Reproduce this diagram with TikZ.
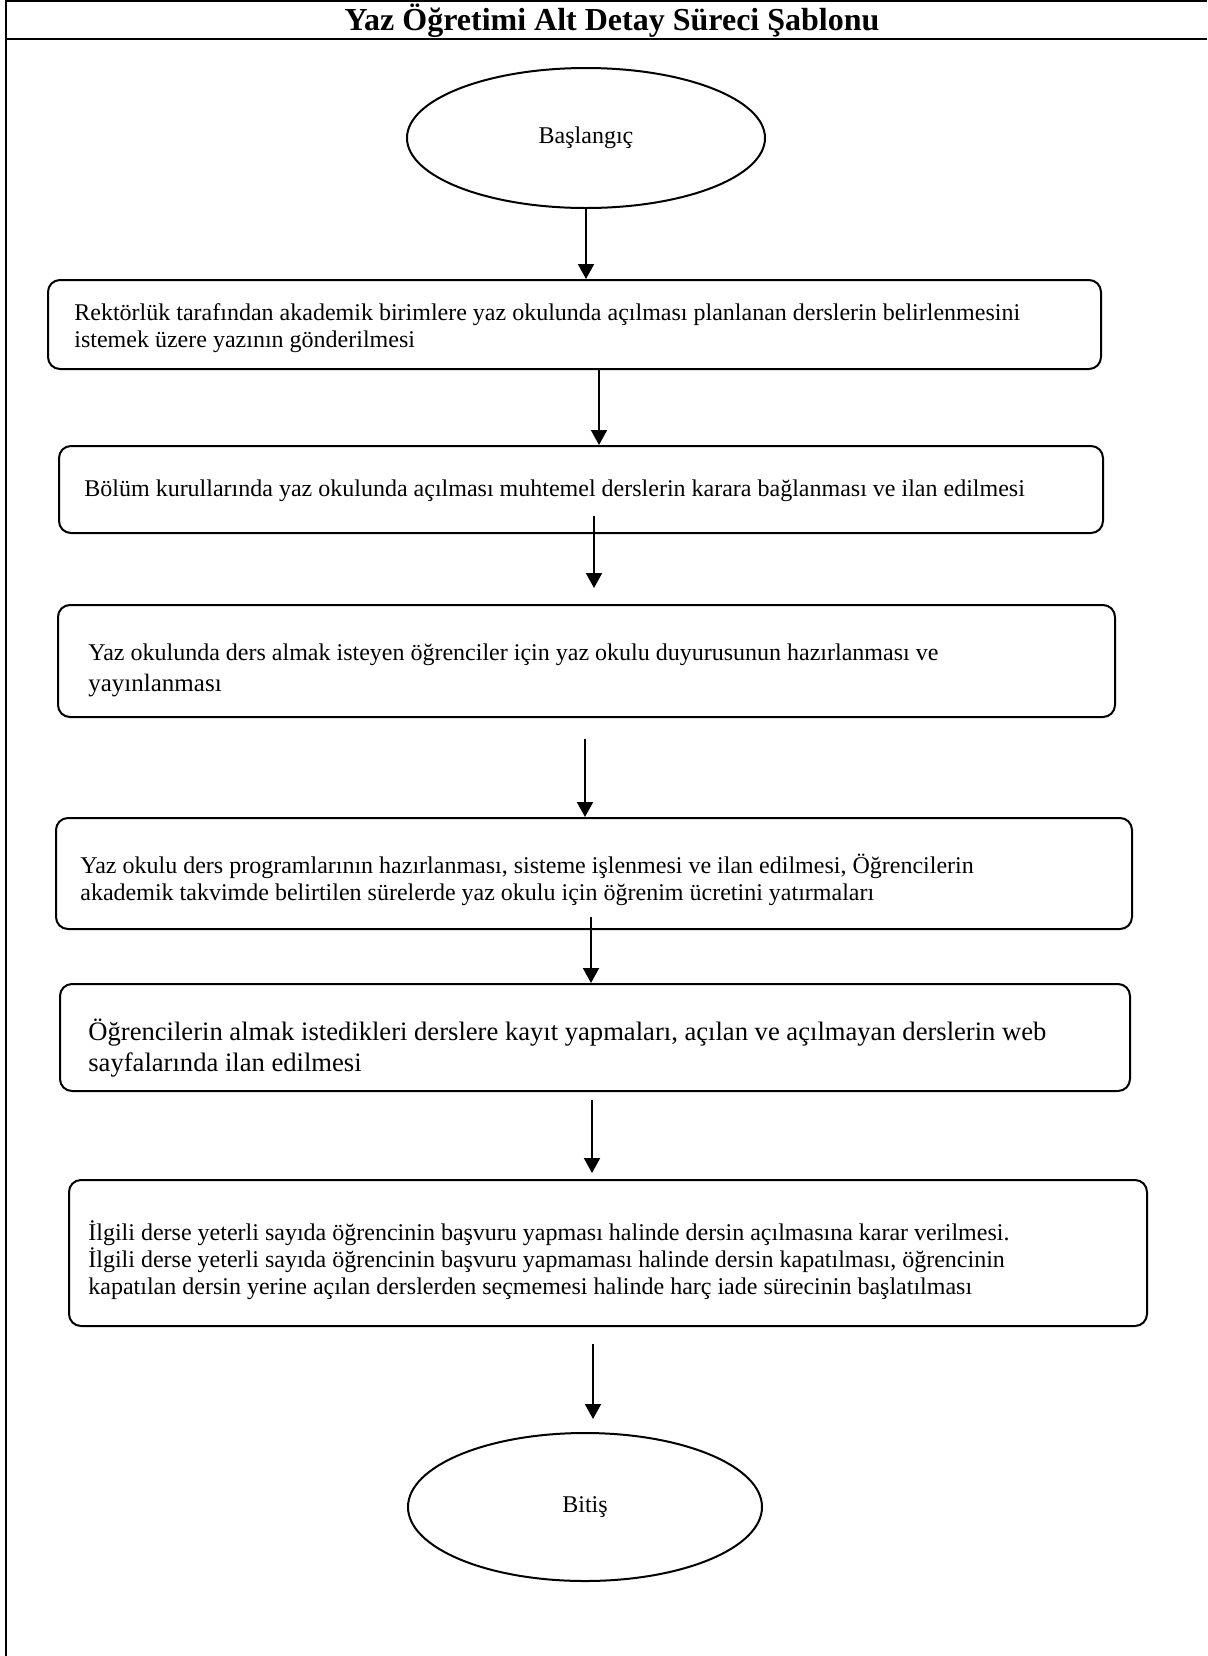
\documentclass[tikz,border=0pt]{standalone}
\usepackage{fontspec}
\setmainfont{Liberation Serif}
\usetikzlibrary{shapes.geometric,arrows.meta}
\begin{document}
\begin{tikzpicture}[x=0.5pt,y=-0.5pt,
  frame/.style={line width=1pt},
  term/.style={draw,ellipse,line width=1pt,inner sep=0pt,font=\fontsize{12}{14}\selectfont},
  stepbox/.style={draw,rectangle,rounded corners=6pt,line width=1pt,inner sep=0pt},
  steptext/.style={anchor=west,align=left,inner sep=0pt,font=\fontsize{12}{13.4}\selectfont},
  arr/.style={line width=1pt,-{Triangle[length=7.5pt,width=8pt]}}]
\useasboundingbox (0,0) rectangle (1207,1656);

% page frame and title row
\coordinate (tl) at (6,1);
\coordinate (tr) at (1207,1);
\coordinate (hl) at (6,39);
\coordinate (hr) at (1207,39);
\coordinate (bl) at (6,1656);
\draw[frame] (tr) -- (tl) -- (bl);
\draw[frame] (hl) -- (hr);
\node[font=\fontsize{16}{18}\selectfont\bfseries] (title) at (612,21) {Yaz Öğretimi Alt Detay Süreci Şablonu};

% terminals
\node[term,minimum width=179pt,minimum height=70pt] (start) at (586,138) {Başlangıç};
\node[term,minimum width=177pt,minimum height=74pt] (stop) at (585,1507) {Bitiş};

% process boxes
\node[stepbox,minimum width=526.5pt,minimum height=44.5pt] (b1) at (574.5,324.5) {};
\node[stepbox,minimum width=522pt,minimum height=43.5pt] (b2) at (581,489.5) {};
\node[stepbox,minimum width=528.5pt,minimum height=56pt] (b3) at (586.5,661) {};
\node[stepbox,minimum width=538pt,minimum height=55.5pt] (b4) at (594,873.5) {};
\node[stepbox,minimum width=535pt,minimum height=53.5pt] (b5) at (595,1037.5) {};
\node[stepbox,minimum width=539pt,minimum height=73pt] (b6) at (608,1253) {};

% box texts
\node[steptext] (t1) at (74,328) {Rektörlük tarafından akademik birimlere yaz okulunda açılması planlanan derslerin belirlenmesini\\istemek üzere yazının gönderilmesi};
\node[steptext] (t2) at (84,491) {Bölüm kurullarında yaz okulunda açılması muhtemel derslerin karara bağlanması ve ilan edilmesi};
\node[steptext] (t3) at (88,670) {Yaz okulunda ders almak isteyen öğrenciler için yaz okulu duyurusunun hazırlanması ve\\[2pt]{\fontsize{12.5}{14}\selectfont yayınlanması}};
\node[steptext] (t4) at (80,880) {Yaz okulu ders programlarının hazırlanması, sisteme işlenmesi ve ilan edilmesi, Öğrencilerin\\akademik takvimde belirtilen sürelerde yaz okulu için öğrenim ücretini yatırmaları};
\node[steptext,font=\fontsize{13.3}{15.5}\selectfont] (t5) at (88,1048) {Öğrencilerin almak istedikleri derslere kayıt yapmaları, açılan ve açılmayan derslerin web\\sayfalarında ilan edilmesi};
\node[steptext] (t6) at (88,1260) {İlgili derse yeterli sayıda öğrencinin başvuru yapması halinde dersin açılmasına karar verilmesi.\\İlgili derse yeterli sayıda öğrencinin başvuru yapmaması halinde dersin kapatılması, öğrencinin\\kapatılan dersin yerine açılan derslerden seçmemesi halinde harç iade sürecinin başlatılması};

% connector start and end points
\coordinate (a2s) at (599,370);
\coordinate (a3s) at (594,516);
\coordinate (a3e) at (594,588);
\coordinate (a4s) at (585,739);
\coordinate (a5s) at (591,917);
\coordinate (a6s) at (592,1100);
\coordinate (a6e) at (592,1173);
\coordinate (a7s) at (593,1344);
\coordinate (a7e) at (593,1419);

% connectors
\draw[arr] (start.south) -- (start.south |- b1.north);
\draw[arr] (a2s) -- (a2s |- b2.north);
\draw[arr] (a3s) -- (a3e);
\draw[arr] (a4s) -- (a4s |- b4.north);
\draw[arr] (a5s) -- (a5s |- b5.north);
\draw[arr] (a6s) -- (a6e);
\draw[arr] (a7s) -- (a7e);
\end{tikzpicture}
\end{document}
